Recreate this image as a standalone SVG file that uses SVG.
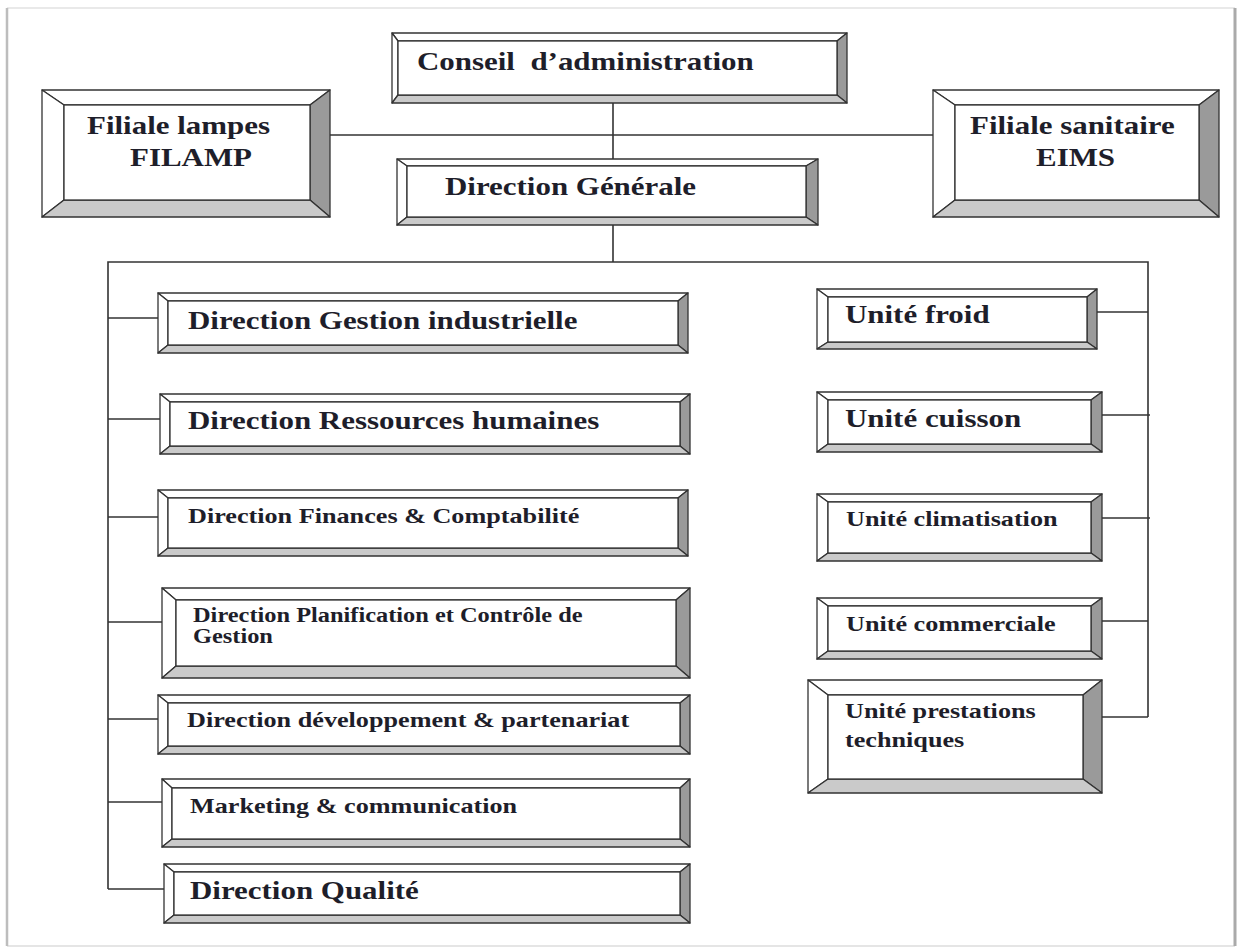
<svg xmlns="http://www.w3.org/2000/svg" width="1239" height="948" viewBox="0 0 1239 948">
<style>
.t{fill:#fff;stroke:#333;stroke-width:1.3;stroke-linejoin:round}
.l{fill:#fff;stroke:#333;stroke-width:1.3;stroke-linejoin:round}
.r{fill:#9a9a9a;stroke:#333;stroke-width:1.3;stroke-linejoin:round}
.b{fill:#cacaca;stroke:#333;stroke-width:1.3;stroke-linejoin:round}
.i{fill:#fff;stroke:#333;stroke-width:1.3}
.c{fill:none;stroke:#333;stroke-width:1.6}
text{font-family:"Liberation Serif","Times New Roman",serif;font-weight:bold;fill:#1e1e2a;white-space:pre}
.f26{font-size:26px}
.f22{font-size:22px}
.f20{font-size:20.5px}
</style>
<rect x="0" y="0" width="1239" height="948" fill="#fff"/>
<g id="frame" fill="none">
<line x1="7" y1="8" x2="1235" y2="8" stroke="#e2e2e2" stroke-width="1.5"/>
<line x1="7" y1="946" x2="1235" y2="946" stroke="#dcdcdc" stroke-width="1.5"/>
<line x1="7" y1="8" x2="7" y2="946" stroke="#bdbdbd" stroke-width="2.5"/>
<line x1="1235" y1="8" x2="1235" y2="946" stroke="#aaa" stroke-width="3"/>
</g>
<g id="connectors">
<line class="c" x1="330" y1="135" x2="933" y2="135"/>
<line class="c" x1="613" y1="103" x2="613" y2="159"/>
<line class="c" x1="613" y1="225" x2="613" y2="262"/>
<polyline class="c" points="108,889 108,262 1148,262 1148,717"/>
<line class="c" x1="108" y1="318" x2="158" y2="318"/>
<line class="c" x1="108" y1="419" x2="160" y2="419"/>
<line class="c" x1="108" y1="517" x2="158" y2="517"/>
<line class="c" x1="108" y1="622" x2="162" y2="622"/>
<line class="c" x1="108" y1="719" x2="158" y2="719"/>
<line class="c" x1="108" y1="802" x2="162" y2="802"/>
<line class="c" x1="108" y1="889" x2="164" y2="889"/>
<line class="c" x1="1097" y1="312" x2="1148" y2="312"/>
<line class="c" x1="1102" y1="415" x2="1150" y2="415"/>
<line class="c" x1="1102" y1="518" x2="1150" y2="518"/>
<line class="c" x1="1102" y1="621" x2="1148" y2="621"/>
<line class="c" x1="1102" y1="717" x2="1148" y2="717"/>
</g>
<g id="conseil">
<polygon class="t" points="392,33 847,33 837,41 398,41"/>
<polygon class="l" points="392,33 398,41 398,95 392,103"/>
<polygon class="r" points="847,33 847,103 837,95 837,41"/>
<polygon class="b" points="392,103 847,103 837,95 398,95"/>
<rect class="i" x="398" y="41" width="439" height="54"/>
<text class="f26" transform="translate(417,70) scale(1.19,1)" xml:space="preserve">Conseil  d’administration</text>
</g>
<g id="direction-generale">
<polygon class="t" points="397,159 818,159 806,166 407,166"/>
<polygon class="l" points="397,159 407,166 407,217 397,225"/>
<polygon class="r" points="818,159 818,225 806,217 806,166"/>
<polygon class="b" points="397,225 818,225 806,217 407,217"/>
<rect class="i" x="407" y="166" width="399" height="51"/>
<text class="f26" transform="translate(445,195) scale(1.19,1)">Direction Générale</text>
</g>
<g id="filiale-lampes">
<polygon class="t" points="42,90 330,90 310,105 64,105"/>
<polygon class="l" points="42,90 64,105 64,200 42,217"/>
<polygon class="r" points="330,90 330,217 310,200 310,105"/>
<polygon class="b" points="42,217 330,217 310,200 64,200"/>
<rect class="i" x="64" y="105" width="246" height="95"/>
<text class="f26" transform="translate(87,134) scale(1.19,1)">Filiale lampes</text>
<text class="f26" transform="translate(130,166) scale(1.19,1)">FILAMP</text>
</g>
<g id="filiale-sanitaire">
<polygon class="t" points="933,90 1219,90 1199,105 955,105"/>
<polygon class="l" points="933,90 955,105 955,200 933,217"/>
<polygon class="r" points="1219,90 1219,217 1199,200 1199,105"/>
<polygon class="b" points="933,217 1219,217 1199,200 955,200"/>
<rect class="i" x="955" y="105" width="244" height="95"/>
<text class="f26" transform="translate(970,134) scale(1.19,1)">Filiale sanitaire</text>
<text class="f26" transform="translate(1036,166) scale(1.19,1)">EIMS</text>
</g>
<g id="dir-gestion-industrielle">
<polygon class="t" points="158,293 688,293 678,301 168,301"/>
<polygon class="l" points="158,293 168,301 168,345 158,353"/>
<polygon class="r" points="688,293 688,353 678,345 678,301"/>
<polygon class="b" points="158,353 688,353 678,345 168,345"/>
<rect class="i" x="168" y="301" width="510" height="44"/>
<text class="f26" transform="translate(188,329) scale(1.19,1)">Direction Gestion industrielle</text>
</g>
<g id="dir-ressources-humaines">
<polygon class="t" points="160,394 690,394 680,402 170,402"/>
<polygon class="l" points="160,394 170,402 170,446 160,454"/>
<polygon class="r" points="690,394 690,454 680,446 680,402"/>
<polygon class="b" points="160,454 690,454 680,446 170,446"/>
<rect class="i" x="170" y="402" width="510" height="44"/>
<text class="f26" transform="translate(188,429) scale(1.19,1)">Direction Ressources humaines</text>
</g>
<g id="dir-finances">
<polygon class="t" points="158,490 688,490 678,498 168,498"/>
<polygon class="l" points="158,490 168,498 168,548 158,556"/>
<polygon class="r" points="688,490 688,556 678,548 678,498"/>
<polygon class="b" points="158,556 688,556 678,548 168,548"/>
<rect class="i" x="168" y="498" width="510" height="50"/>
<text class="f22" transform="translate(188,523) scale(1.19,1)">Direction Finances &amp; Comptabilité</text>
</g>
<g id="dir-planification">
<polygon class="t" points="162,588 690,588 676,600 176,600"/>
<polygon class="l" points="162,588 176,600 176,666 162,678"/>
<polygon class="r" points="690,588 690,678 676,666 676,600"/>
<polygon class="b" points="162,678 690,678 676,666 176,666"/>
<rect class="i" x="176" y="600" width="500" height="66"/>
<text class="f20" transform="translate(193,622) scale(1.19,1)">Direction Planification et Contrôle de</text>
<text class="f20" transform="translate(193,643) scale(1.19,1)">Gestion</text>
</g>
<g id="dir-developpement">
<polygon class="t" points="158,695 690,695 680,703 168,703"/>
<polygon class="l" points="158,695 168,703 168,746 158,754"/>
<polygon class="r" points="690,695 690,754 680,746 680,703"/>
<polygon class="b" points="158,754 690,754 680,746 168,746"/>
<rect class="i" x="168" y="703" width="512" height="43"/>
<text class="f22" transform="translate(187,727) scale(1.19,1)">Direction développement &amp; partenariat</text>
</g>
<g id="marketing">
<polygon class="t" points="162,779 690,779 680,788 172,788"/>
<polygon class="l" points="162,779 172,788 172,839 162,847"/>
<polygon class="r" points="690,779 690,847 680,839 680,788"/>
<polygon class="b" points="162,847 690,847 680,839 172,839"/>
<rect class="i" x="172" y="788" width="508" height="51"/>
<text class="f22" transform="translate(190,813) scale(1.19,1)">Marketing &amp; communication</text>
</g>
<g id="dir-qualite">
<polygon class="t" points="164,864 690,864 680,872 174,872"/>
<polygon class="l" points="164,864 174,872 174,915 164,923"/>
<polygon class="r" points="690,864 690,923 680,915 680,872"/>
<polygon class="b" points="164,923 690,923 680,915 174,915"/>
<rect class="i" x="174" y="872" width="506" height="43"/>
<text class="f26" transform="translate(190,899) scale(1.19,1)">Direction Qualité</text>
</g>
<g id="unite-froid">
<polygon class="t" points="817,289 1097,289 1087,297 828,297"/>
<polygon class="l" points="817,289 828,297 828,342 817,349"/>
<polygon class="r" points="1097,289 1097,349 1087,342 1087,297"/>
<polygon class="b" points="817,349 1097,349 1087,342 828,342"/>
<rect class="i" x="828" y="297" width="259" height="45"/>
<text class="f26" transform="translate(845,323) scale(1.19,1)">Unité froid</text>
</g>
<g id="unite-cuisson">
<polygon class="t" points="817,392 1102,392 1091,400 828,400"/>
<polygon class="l" points="817,392 828,400 828,444 817,452"/>
<polygon class="r" points="1102,392 1102,452 1091,444 1091,400"/>
<polygon class="b" points="817,452 1102,452 1091,444 828,444"/>
<rect class="i" x="828" y="400" width="263" height="44"/>
<text class="f26" transform="translate(845,427) scale(1.19,1)">Unité cuisson</text>
</g>
<g id="unite-climatisation">
<polygon class="t" points="817,494 1102,494 1091,502 828,502"/>
<polygon class="l" points="817,494 828,502 828,553 817,561"/>
<polygon class="r" points="1102,494 1102,561 1091,553 1091,502"/>
<polygon class="b" points="817,561 1102,561 1091,553 828,553"/>
<rect class="i" x="828" y="502" width="263" height="51"/>
<text class="f22" transform="translate(846,526) scale(1.19,1)">Unité climatisation</text>
</g>
<g id="unite-commerciale">
<polygon class="t" points="817,598 1102,598 1091,606 828,606"/>
<polygon class="l" points="817,598 828,606 828,651 817,659"/>
<polygon class="r" points="1102,598 1102,659 1091,651 1091,606"/>
<polygon class="b" points="817,659 1102,659 1091,651 828,651"/>
<rect class="i" x="828" y="606" width="263" height="45"/>
<text class="f22" transform="translate(846,631) scale(1.19,1)">Unité commerciale</text>
</g>
<g id="unite-prestations">
<polygon class="t" points="808,680 1102,680 1083,695 828,695"/>
<polygon class="l" points="808,680 828,695 828,779 808,793"/>
<polygon class="r" points="1102,680 1102,793 1083,779 1083,695"/>
<polygon class="b" points="808,793 1102,793 1083,779 828,779"/>
<rect class="i" x="828" y="695" width="255" height="84"/>
<text class="f22" transform="translate(845,718) scale(1.19,1)">Unité prestations</text>
<text class="f22" transform="translate(845,747) scale(1.19,1)">techniques</text>
</g>
</svg>
